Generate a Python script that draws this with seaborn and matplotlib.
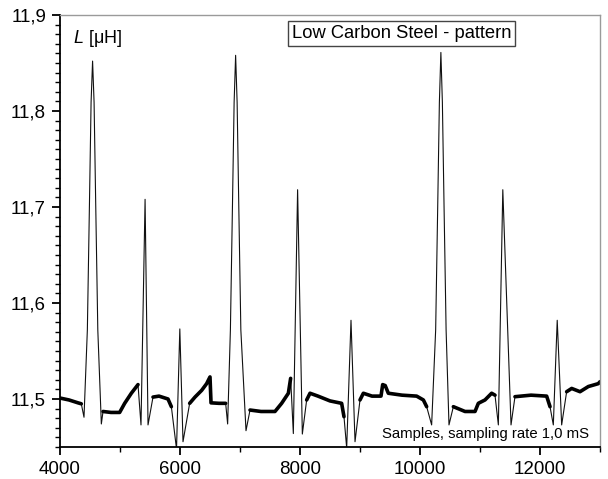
import numpy as np
import pandas as pd
import matplotlib
matplotlib.use("Agg")
import matplotlib.pyplot as plt
import seaborn as sns
from matplotlib.ticker import MultipleLocator, FuncFormatter

# ---- data (sample index, inductance in uH) ----
sample = [4000, 4150, 4300, 4355,
          4400, 4456, 4490, 4518, 4543, 4568, 4596, 4630, 4689,
          4717, 4850, 4994, 5078, 5189, 5300,
          5350, 5418, 5467,
          5550, 5650, 5800, 5856,
          5942, 5997, 6050,
          6161, 6250, 6361, 6444, 6500, 6517, 6650, 6761,
          6794, 6840, 6874, 6902, 6927, 6952, 6980, 7014, 7100,
          7167, 7350, 7583, 7694, 7806, 7844,
          7889, 7960, 8039,
          8111, 8167, 8300, 8500, 8694, 8733,
          8778, 8850, 8917,
          9000, 9056, 9200, 9350, 9378, 9420, 9472, 9700, 9944, 10056, 10111,
          10194, 10261, 10295, 10323, 10348, 10373, 10401, 10435, 10483,
          10556, 10750, 10917, 10972, 11083, 11194, 11250,
          11306, 11380, 11517,
          11583, 11850, 12111, 12167,
          12222, 12287, 12361,
          12444, 12528, 12667, 12806, 12972, 13000]
inductance = [11.501, 11.499, 11.496, 11.495,
              11.481, 11.572, 11.700, 11.809, 11.852, 11.809, 11.700, 11.572, 11.474,
              11.487, 11.486, 11.486, 11.4955, 11.506, 11.515,
              11.473, 11.708, 11.473,
              11.502, 11.503, 11.500, 11.492,
              11.448, 11.573, 11.4555,
              11.4955, 11.502, 11.509, 11.516, 11.523, 11.496, 11.4955, 11.4955,
              11.474, 11.572, 11.700, 11.809, 11.858, 11.809, 11.700, 11.572, 11.467,
              11.4885, 11.487, 11.487, 11.4955, 11.506, 11.5215,
              11.464, 11.718, 11.4635,
              11.499, 11.506, 11.503, 11.498, 11.4955, 11.4816,
              11.449, 11.582, 11.4555,
              11.499, 11.506, 11.503, 11.503, 11.515, 11.514, 11.506, 11.504, 11.503, 11.499, 11.492,
              11.473, 11.572, 11.700, 11.809, 11.861, 11.809, 11.700, 11.572, 11.473,
              11.492, 11.487, 11.487, 11.4955, 11.499, 11.506, 11.504,
              11.473, 11.718, 11.473,
              11.5024, 11.504, 11.503, 11.492,
              11.473, 11.582, 11.473,
              11.5076, 11.511, 11.5076, 11.513, 11.516, 11.518]
segment = (['base'] * 4 + ['peak'] * 9 + ['base'] * 6 + ['peak'] * 3 +
           ['base'] * 4 + ['peak'] * 3 + ['base'] * 8 + ['peak'] * 9 +
           ['base'] * 6 + ['peak'] * 3 + ['base'] * 6 + ['peak'] * 3 +
           ['base'] * 11 + ['peak'] * 9 + ['base'] * 7 + ['peak'] * 3 +
           ['base'] * 4 + ['peak'] * 3 + ['base'] * 6)

x_ticks = [4000, 6000, 8000, 10000, 12000]
y_ticks = [11.5, 11.6, 11.7, 11.8, 11.9]

# ---- build frames ----
df = pd.DataFrame({"sample": sample, "L": inductance, "segment": segment})
df["run"] = (df["segment"] != df["segment"].shift()).cumsum()
df_base = df[df["segment"] == "base"]

sns.set_theme(style="white")
plt.rcParams["font.family"] = ["Liberation Sans", "DejaVu Sans"]
plt.rcParams["mathtext.fontset"] = "custom"
plt.rcParams["mathtext.it"] = "Liberation Sans:italic"
plt.rcParams["mathtext.rm"] = "Liberation Sans"

fig = plt.figure(figsize=(6.08, 4.79), dpi=100)
ax = fig.add_axes([60 / 608, 32 / 479, 540 / 608, 432 / 479])

sns.lineplot(data=df, x="sample", y="L", sort=False, estimator=None,
             color="#111111", linewidth=0.8, ax=ax)
sns.lineplot(data=df_base, x="sample", y="L", units="run", sort=False,
             estimator=None, color="black", linewidth=2.6, ax=ax)

ax.set_xlim(4000, 13000)
ax.set_ylim(11.45, 11.9)
ax.set_xlabel("")
ax.set_ylabel("")

ax.set_xticks(x_ticks)
ax.set_yticks(y_ticks)
ax.xaxis.set_minor_locator(MultipleLocator(1000))
ax.yaxis.set_minor_locator(MultipleLocator(0.01))
ax.yaxis.set_major_formatter(FuncFormatter(lambda v, p: f"{v:.1f}".replace(".", ",")))
ax.xaxis.set_major_formatter(FuncFormatter(lambda v, p: f"{v:.0f}"))

for s in ["left", "bottom"]:
    ax.spines[s].set_color("black")
    ax.spines[s].set_linewidth(1.3)
for s in ["top", "right"]:
    ax.spines[s].set_color("#9a9a9a")
    ax.spines[s].set_linewidth(1.0)

ax.tick_params(which="both", direction="out", left=True, bottom=True,
               top=False, right=False, color="black")
ax.tick_params(which="major", length=6, width=1.3, labelsize=13.5, pad=4,
               labelcolor="black")
ax.tick_params(which="minor", length=3.5, width=1.0)

ax.text(0.024, 0.935, r"$\mathit{L}$ [μH]", transform=ax.transAxes,
        fontsize=13, ha="left", va="baseline", color="black")
ax.text(0.633, 0.957, "Low Carbon Steel - pattern", transform=ax.transAxes,
        fontsize=13.2, ha="center", va="center", color="black",
        bbox=dict(boxstyle="square,pad=0.2", facecolor="white",
                  edgecolor="#444444", linewidth=1.0))
ax.text(0.98, 0.021, "Samples, sampling rate 1,0 mS", transform=ax.transAxes,
        fontsize=10.7, ha="right", va="baseline", color="black")

fig.savefig("out.png", dpi=100)
